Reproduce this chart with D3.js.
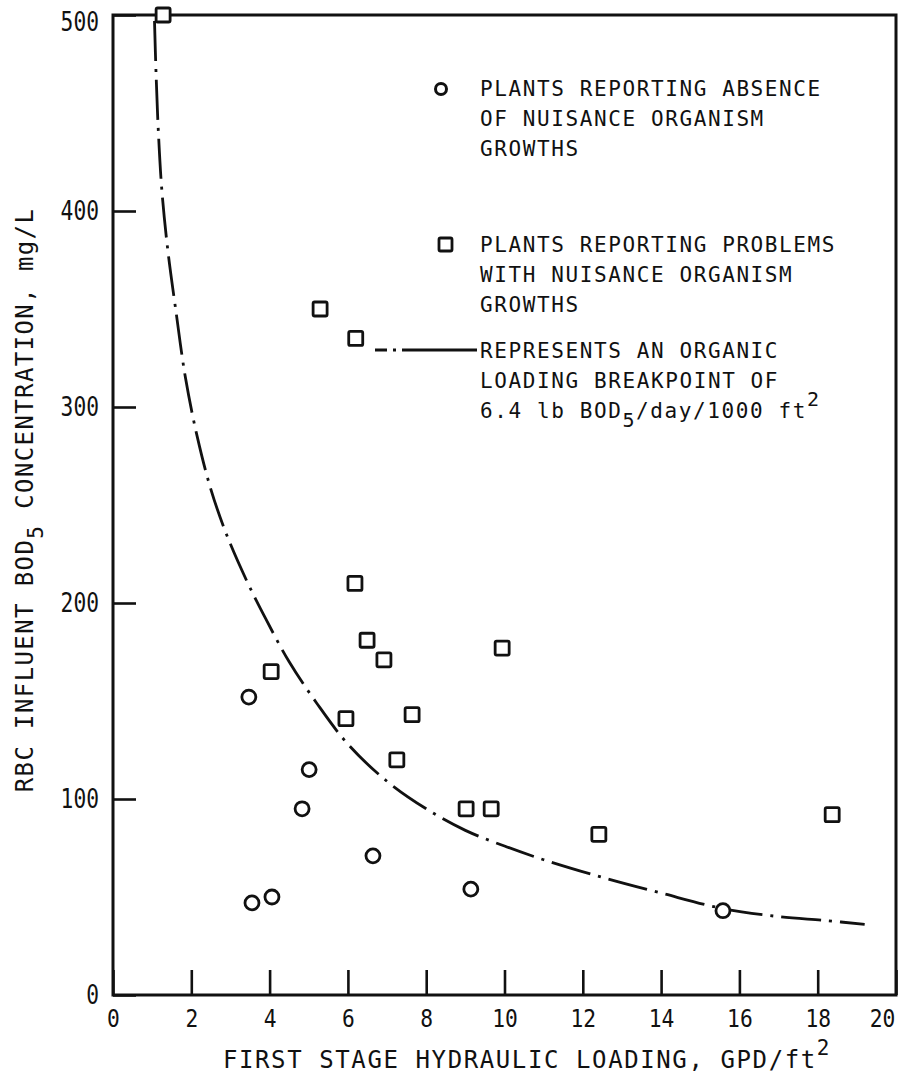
<!DOCTYPE html>
<html>
<head>
<meta charset="utf-8">
<script src="https://cdn.jsdelivr.net/npm/d3@7"></script>
<style>
  body { margin: 0; background: #fff; }
  text { fill: #111; }
</style>
</head>
<body>
<svg id="chart" width="899" height="1082"></svg>
<script>
// ---- data ----
const xTicks = [0, 2, 4, 6, 8, 10, 12, 14, 16, 18, 20];
const yTicks = [0, 100, 200, 300, 400, 500];

// plants reporting absence of nuisance organism growths
const absenceLoading = [3.47, 3.55, 4.06, 4.83, 5.01, 6.64, 9.14, 15.58];
const absenceBod     = [152, 47, 50, 95, 115, 71, 54, 43];

// plants reporting problems with nuisance organism growths
const problemLoading = [1.28, 5.29, 6.2, 6.18, 6.49, 6.92, 9.94, 4.04, 5.95, 7.64, 7.25, 9.02, 9.66, 12.41, 18.37];
const problemBod     = [500, 350, 335, 210, 181, 171, 177, 165, 141, 143, 120, 95, 95, 82, 92];

// organic loading breakpoint line (6.4 lb BOD5/day/1000 ft2)
const breakLoading = [1.06, 1.10, 1.16, 1.25, 1.40, 1.60, 1.85, 2.15, 2.5, 2.9, 3.4, 3.9, 4.5,
                      5.2, 6.0, 7.0, 8.0, 9.0, 10.0, 11.0, 12.5, 14.0, 15.6, 17.0, 18.2, 19.2];
const breakBod     = [497, 470, 440, 410, 380, 350, 315, 285, 258, 235, 212, 192, 170,
                      149, 128, 109, 95, 84, 76, 69, 60, 52, 44, 40, 38, 36];

// ---- layout ----
const ink = "#111";
const mono = "'DejaVu Sans Mono', 'Liberation Mono', monospace";
const svg = d3.select("#chart");

const x = d3.scaleLinear().domain([0, 20]).range([113, 896]);
const y = d3.scaleLinear().domain([0, 500]).range([995, 15]);

// frame
svg.append("rect")
  .attr("x", x(0)).attr("y", y(500))
  .attr("width", x(20) - x(0)).attr("height", y(0) - y(500))
  .attr("fill", "none").attr("stroke", ink).attr("stroke-width", 3);

// x axis: ticks point inward, labels below
const gx = svg.append("g")
  .attr("transform", `translate(0,${y(0)})`)
  .call(d3.axisBottom(x).tickValues(xTicks).tickSizeInner(-25).tickSizeOuter(0).tickPadding(14)
        .tickFormat(d3.format("d")));
gx.select(".domain").remove();
gx.selectAll(".tick line").attr("stroke", ink).attr("stroke-width", 2.6);
gx.selectAll(".tick text")
  .attr("font-family", mono).attr("font-size", 25).attr("fill", ink)
  .attr("textLength", d => String(d).length * 12.8)
  .attr("lengthAdjust", "spacingAndGlyphs")
  .attr("dx", d => d === 20 ? -14 : 0);

// y axis: ticks point inward, labels to the left
const gy = svg.append("g")
  .attr("transform", `translate(${x(0)},0)`)
  .call(d3.axisLeft(y).tickValues(yTicks).tickSizeInner(-23).tickSizeOuter(0).tickPadding(14)
        .tickFormat(d3.format("d")));
gy.select(".domain").remove();
gy.selectAll(".tick line").attr("stroke", ink).attr("stroke-width", 2.6);
gy.selectAll(".tick text")
  .attr("font-family", mono).attr("font-size", 26).attr("fill", ink)
  .attr("textLength", d => String(d).length * 12.8)
  .attr("lengthAdjust", "spacingAndGlyphs")
  .attr("dy", d => d === 500 ? "0.6em" : "0.32em");

// axis titles
svg.append("text")
  .attr("x", 527).attr("y", 1068)
  .attr("text-anchor", "middle")
  .attr("font-family", mono).attr("font-size", 24).attr("letter-spacing", 1.6)
  .call(t => {
    t.append("tspan").text("FIRST STAGE HYDRAULIC LOADING, GPD/ft");
    t.append("tspan").attr("dy", -13).attr("font-size", 21).text("2");
  });

svg.append("text")
  .attr("transform", "translate(33,500) rotate(-90)")
  .attr("text-anchor", "middle")
  .attr("font-family", mono).attr("font-size", 24).attr("letter-spacing", 1.4)
  .call(t => {
    t.append("tspan").text("RBC INFLUENT BOD");
    t.append("tspan").attr("dy", 10).attr("font-size", 21).text("5");
    t.append("tspan").attr("dy", -10).text(" CONCENTRATION, mg/L");
  });

// breakpoint line
const line = d3.line().x(d => x(d[0])).y(d => y(d[1])).curve(d3.curveCatmullRom.alpha(0.5));
svg.append("path")
  .datum(d3.zip(breakLoading, breakBod))
  .attr("d", line)
  .attr("fill", "none").attr("stroke", ink).attr("stroke-width", 2.8)
  .attr("stroke-dasharray", "40,8,3,8");

// markers
const drawCircle = (g, cx, cy) => g.append("circle")
  .attr("cx", cx).attr("cy", cy).attr("r", 7)
  .attr("fill", "#fff").attr("stroke", ink).attr("stroke-width", 2.8);
const drawSquare = (g, cx, cy) => g.append("rect")
  .attr("x", cx - 7).attr("y", cy - 7).attr("width", 14).attr("height", 14).attr("rx", 1.5)
  .attr("fill", "#fff").attr("stroke", ink).attr("stroke-width", 2.8);

const marks = svg.append("g");
d3.zip(absenceLoading, absenceBod).forEach(([a, b]) => drawCircle(marks, x(a), y(b)));
d3.zip(problemLoading, problemBod).forEach(([a, b]) => drawSquare(marks, x(a), y(b)));

// legend
const legend = svg.append("g")
  .attr("font-family", mono).attr("font-size", 21).attr("letter-spacing", 1.6);
const lx = 480;
const addLines = (lines, y0) => lines.forEach((s, i) =>
  legend.append("text").attr("x", lx).attr("y", y0 + i * 30).text(s));

drawCircle(legend, 441, 89).attr("r", 5.5).attr("stroke-width", 3);
addLines(["PLANTS REPORTING ABSENCE", "OF NUISANCE ORGANISM", "GROWTHS"], 96);

drawSquare(legend, 446, 245).attr("width", 13).attr("height", 13);
addLines(["PLANTS REPORTING PROBLEMS", "WITH NUISANCE ORGANISM", "GROWTHS"], 252);

legend.append("path")
  .attr("d", `M375,350H477`)
  .attr("fill", "none").attr("stroke", ink).attr("stroke-width", 2.8)
  .attr("stroke-dasharray", "12,6,3,6,80");
addLines(["REPRESENTS AN ORGANIC", "LOADING BREAKPOINT OF"], 358);
legend.append("text").attr("x", lx).attr("y", 418)
  .call(t => {
    t.append("tspan").text("6.4 lb BOD");
    t.append("tspan").attr("dy", 9).attr("font-size", 20).text("5");
    t.append("tspan").attr("dy", -9).text("/day/1000 ft");
    t.append("tspan").attr("dy", -12).attr("font-size", 20).text("2");
  });
</script>
</body>
</html>
